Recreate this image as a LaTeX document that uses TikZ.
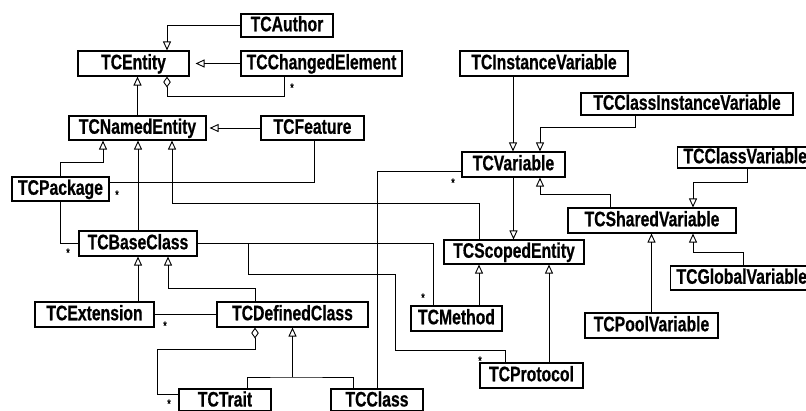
\documentclass[tikz,border=0pt]{standalone}
\usepackage{fontspec}
\setmainfont{Liberation Sans}[FakeStretch=0.75, FakeBold=0.6]
\usetikzlibrary{arrows.meta}

\tikzset{
  cls/.style={draw, fill=white, line width=1.1pt, inner sep=0pt,
    font=\fontsize{21}{25}\selectfont\bfseries, text height=15pt, text depth=3.5pt},
  gen/.style={-{Triangle[open,length=9pt,width=8pt]}, line width=0.9pt},
  agg/.style={{Diamond[open,length=11pt,width=7.5pt]}-, line width=0.9pt},
  assoc/.style={line width=0.9pt},
  mult/.style={font=\fontsize{13}{13}\selectfont, inner sep=0pt, yshift=-2.8pt},
}

\begin{document}
\begin{tikzpicture}[x=1pt, y=-1pt]
\useasboundingbox (0,0) rectangle (806,410);
\fill[white] (0,0) rectangle (806,410);
\clip (0,0) rectangle (806,410);

% classes
\node[cls, minimum width=92pt,  minimum height=23pt] (author)    at (287,25.5)   {TCAuthor};
\node[cls, minimum width=111pt, minimum height=25pt] (entity)    at (133.5,63.5) {TCEntity};
\node[cls, minimum width=161pt, minimum height=25pt] (changed)   at (321.5,63.5) {TCChangedElement};
\node[cls, minimum width=137pt, minimum height=24pt] (named)     at (137.5,128)  {TCNamedEntity};
\node[cls, minimum width=103pt, minimum height=24pt] (feature)   at (312.5,128)  {TCFeature};
\node[cls, minimum width=97pt,  minimum height=24pt] (package)   at (60.5,189)   {TCPackage};
\node[cls, minimum width=118pt, minimum height=25pt] (baseclass) at (138,243.5)  {TCBaseClass};
\node[cls, minimum width=119pt, minimum height=25pt] (extension) at (94.5,314.5) {TCExtension};
\node[cls, minimum width=151pt, minimum height=25pt] (defined)   at (292.5,314.5){TCDefinedClass};
\node[cls, minimum width=92pt,  minimum height=22pt, text depth=2pt] (trait) at (225,400) {TCTrait};
\node[cls, minimum width=92pt,  minimum height=22pt, text depth=2pt] (class) at (377,400) {TCClass};
\node[cls, minimum width=168pt, minimum height=25pt] (instvar)   at (544,63.5)   {TCInstanceVariable};
\node[cls, minimum width=212pt, minimum height=22pt] (civ)       at (687,104)    {TCClassInstanceVariable};
\node[cls, minimum width=103pt, minimum height=25pt] (variable)  at (513.5,164.5){TCVariable};
\node[cls, anchor=west, inner xsep=6pt, minimum height=21pt] (classvar) at (677,157.5) {TCClassVariable};
\node[cls, minimum width=168pt, minimum height=25pt] (shared)    at (652,220.5)  {TCSharedVariable};
\node[cls, minimum width=140pt, minimum height=24pt] (scoped)    at (514,252)    {TCScopedEntity};
\node[cls, anchor=west, inner xsep=6pt, minimum height=24pt] (global) at (670,278) {TCGlobalVariable};
\node[cls, minimum width=91pt,  minimum height=25pt] (method)    at (456.5,318.5){TCMethod};
\node[cls, minimum width=133pt, minimum height=25pt] (pool)      at (651.5,325.5){TCPoolVariable};
\node[cls, minimum width=103pt, minimum height=25pt] (protocol)  at (531.5,375.5){TCProtocol};

% generalizations
\draw[gen] (author.west) -| ([xshift=33.5pt]entity.north);
\draw[gen, shorten >=6pt] (changed.west) -- (entity.east);
\draw[gen] (named.north) -- (named.north |- entity.south);
\draw[gen, shorten >=3pt] (feature.west) -- (named.east);
\draw[gen] (package.north) -- ++(0,-14) -| ([xshift=-34.5pt]named.south);
\draw[gen] (baseclass.north) -- (baseclass.north |- named.south);
\draw[gen] ([xshift=-35pt]scoped.north) -- ++(0,-36) -| ([xshift=34.5pt]named.south);
\draw[gen] ([xshift=43.5pt]extension.north) -- ([xshift=43.5pt]extension.north |- baseclass.south);
\draw[gen] ([xshift=-37.5pt]defined.north) -- ++(0,-13) -| ([xshift=30pt]baseclass.south);
\coordinate (tj) at (292.5,377);
\draw[assoc] ([xshift=22pt]trait.north) |- (tj) -| ([xshift=-24pt]class.north);
\draw[gen] (tj) -- (tj |- defined.south);
\draw[gen] ([xshift=22.5pt]method.north) -- ([xshift=22.5pt]method.north |- scoped.south);
\draw[gen] ([xshift=17.5pt]protocol.north) -- ([xshift=17.5pt]protocol.north |- scoped.south);
\draw[gen] (variable.south) -- (variable.south |- scoped.north);
\draw[gen] ([xshift=-31pt]instvar.south) -- ([xshift=-31pt]instvar.south |- variable.north);
\draw[gen] ([xshift=-52pt]civ.south) -- ++(0,12) -| ([xshift=26.5pt]variable.north);
\draw[gen] ([xshift=-42pt]shared.north) -- ++(0,-13) -| ([xshift=26.5pt]variable.south);
\draw[gen] ([xshift=70pt]classvar.south west) -- ++(0,14) -| ([xshift=41pt]shared.north);
\draw[gen] ([xshift=73pt]global.north west) -- ++(0,-13) -| ([xshift=41pt]shared.south);
\draw[gen] (pool.north) -- (pool.north |- shared.south);

% aggregations
\draw[agg] ([xshift=33.5pt]entity.south) -- ++(0,20) -| ([xshift=-37.5pt]changed.south);
\draw[agg] ([xshift=-37.5pt]defined.south) -- ++(0,22) -| ([xshift=-21pt,yshift=6pt]trait.west) -- ([yshift=6pt]trait.west);

% associations
\draw[assoc] ([xshift=1.5pt]feature.south) |- ([yshift=7pt]package.east);
\draw[assoc] (package.south) |- (baseclass.west);
\draw[assoc] (extension.east) -- (defined.west);
\draw[assoc] (class.north) |- ([yshift=-6.5pt]variable.west);
\draw[assoc] (baseclass.east) -| ([xshift=-23.5pt]method.north);
\draw[assoc] (baseclass.east) -- ++(51,0) -- ++(0,31) -- ++(147,0) -- ++(0,75.5) -| ([xshift=-26.5pt]protocol.north);

% multiplicities
\node[mult] (m1) at (292,85)  {*};
\node[mult] (m2) at (117,192) {*};
\node[mult] (m3) at (68,250)  {*};
\node[mult] (m4) at (165,323) {*};
\node[mult] (m5) at (169,401) {*};
\node[mult] (m6) at (453,180) {*};
\node[mult] (m7) at (423,295) {*};
\node[mult] (m8) at (480,358) {*};
\end{tikzpicture}
\end{document}
